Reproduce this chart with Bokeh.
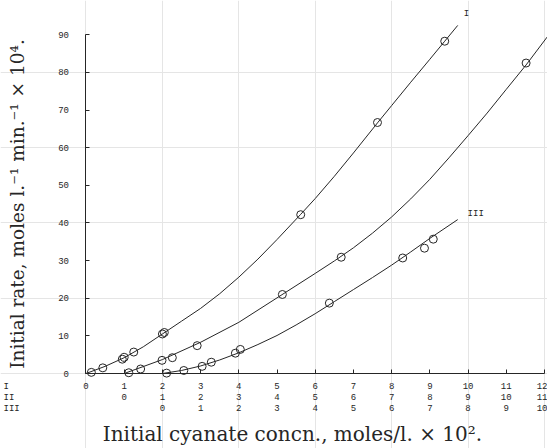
from bokeh.plotting import figure
from bokeh.models import Range1d, LinearAxis, FixedTicker, Label
from bokeh.embed import file_html
from bokeh.resources import INLINE

# ---- data (each curve in its own concentration scale, moles/l x 10^2) ----
# Curve I
pts_I_x = [0.14, 0.44, 0.95, 1.0, 1.25, 2.0, 2.05, 5.62, 7.63, 9.39]
pts_I_y = [0.3, 1.5, 3.8, 4.3, 5.7, 10.5, 10.9, 42.2, 66.7, 88.3]
fit_I_x = [0.0, 0.5, 1.0, 1.5, 2.0, 2.5, 3.0, 3.5, 4.0, 4.5, 5.0, 5.62, 6.0, 6.5, 7.0,
           7.63, 8.0, 8.5, 9.0, 9.39, 9.73]
fit_I_y = [0.0, 1.9, 4.2, 7.1, 10.5, 13.9, 17.3, 21.2, 25.6, 30.4, 35.6, 42.3, 46.5, 52.4, 58.6,
           66.6, 71.2, 77.4, 83.5, 88.3, 92.5]

# Curve II
pts_II_x = [0.12, 0.43, 0.99, 1.26, 1.91, 4.14, 5.68, 10.52]
pts_II_y = [0.2, 1.2, 3.5, 4.2, 7.4, 21.0, 30.9, 82.5]
fit_II_x = [0.0, 1.0, 2.0, 3.0, 4.0, 5.0, 5.5, 6.0, 6.5, 7.0, 7.5, 8.0, 8.5, 9.0, 9.5, 10.0,
            10.52, 11.07]
fit_II_y = [0.0, 3.7, 8.3, 13.6, 20.1, 26.6, 29.9, 33.4, 37.3, 41.6, 46.4, 51.6, 57.3, 63.2,
            69.2, 75.5, 82.0, 89.4]

# Curve III
pts_III_x = [0.11, 0.56, 1.04, 1.28, 1.91, 2.04, 4.37, 6.29, 6.86, 7.09]
pts_III_y = [0.1, 0.8, 1.9, 3.0, 5.4, 6.4, 18.7, 30.7, 33.3, 35.7]
fit_III_x = [0.0, 0.5, 1.0, 1.5, 2.0, 2.5, 3.0, 3.5, 4.0, 4.5, 5.0, 5.5, 6.0, 6.5, 7.0, 7.73]
fit_III_y = [0.0, 0.8, 2.0, 3.6, 5.5, 7.7, 10.1, 12.9, 15.9, 19.1, 22.3, 25.5, 28.8, 32.3,
             35.9, 40.9]

# scale offsets (II scale starts under 1 of I, III under 2 of I)
offset_II = 1
offset_III = 2

ticks_I = list(range(0, 13))
ticks_II = list(range(0, 12))
ticks_III = list(range(0, 11))
ticks_y = list(range(0, 100, 10))
scale_names = ["I", "II", "III"]

y_title = "Initial rate, moles l.\u207b\u00b9 min.\u207b\u00b9 \u00d7 10\u2074."
x_title = "Initial cyanate concn., moles/l. \u00d7 10\u00b2."

# ---- figure: the frame covers the whole page, axes sit at fixed locations ----
x0, x1 = -2.238, 12.08
y0, y1 = -19.93, 99.12
p = figure(width=547, height=448, output_backend="svg", toolbar_location=None,
           x_range=Range1d(x0, x1), y_range=Range1d(y0, y1),
           x_axis_location=None, y_axis_location=None,
           min_border_left=0, min_border_right=0, min_border_top=0, min_border_bottom=0)
p.extra_x_ranges = {"II": Range1d(x0 - offset_II, x1 - offset_II),
                    "III": Range1d(x0 - offset_III, x1 - offset_III)}
p.outline_line_color = None
p.background_fill_color = "white"
p.border_fill_color = "white"

ink = "#262626"
tick_font = "Liberation Mono"
serif = "DejaVu Serif"

# y axis at x = 0
yax = LinearAxis(ticker=FixedTicker(ticks=ticks_y), bounds=(0, 90), axis_label=y_title,
                 fixed_location=0)
yax.axis_line_color = ink
yax.axis_line_width = 1
yax.major_tick_in = 4
yax.major_tick_out = 0
yax.major_tick_line_color = ink
yax.minor_tick_line_color = None
yax.major_label_text_font = tick_font
yax.major_label_text_font_size = "9px"
yax.major_label_text_color = ink
yax.major_label_standoff = 17
yax.axis_label_text_font = serif
yax.axis_label_text_font_style = "normal"
yax.axis_label_text_font_size = "18.5px"
yax.axis_label_text_color = ink
yax.axis_label_standoff = 27
p.add_layout(yax, "left")

# x axes (three scales), all at y = 0
def make_xaxis(ticks, rng, standoff, line):
    kw = {} if rng is None else {"x_range_name": rng}
    ax = LinearAxis(ticker=FixedTicker(ticks=ticks), fixed_location=0, **kw)
    ax.minor_tick_line_color = None
    ax.major_label_text_font = tick_font
    ax.major_label_text_font_size = "9px"
    ax.major_label_text_color = ink
    ax.major_label_standoff = standoff
    if line:
        ax.axis_line_color = ink
        ax.major_tick_line_color = ink
        ax.major_tick_in = 4
        ax.major_tick_out = 0
        ax.bounds = (0, 12)
    else:
        ax.axis_line_color = None
        ax.major_tick_line_color = None
        ax.major_tick_in = 0
        ax.major_tick_out = 0
    return ax

ax_I = make_xaxis(ticks_I, None, 9, True)
ax_II = make_xaxis(ticks_II, "II", 20, False)
ax_III = make_xaxis(ticks_III, "III", 31, False)
ax_III.bounds = (-3.2, 10)
ax_III.axis_label = x_title
ax_III.axis_label_text_font = serif
ax_III.axis_label_text_font_style = "normal"
ax_III.axis_label_text_font_size = "20px"
ax_III.axis_label_text_color = ink
ax_III.axis_label_standoff = 8
p.add_layout(ax_I, "below")
p.add_layout(ax_II, "below")
p.add_layout(ax_III, "below")

# curves
p.line(fit_I_x, fit_I_y, line_color=ink, line_width=1)
p.line(fit_II_x, fit_II_y, line_color=ink, line_width=1, x_range_name="II")
p.line(fit_III_x, fit_III_y, line_color=ink, line_width=1, x_range_name="III")

p.scatter(pts_I_x, pts_I_y, marker="circle", size=8, fill_color=None, line_color=ink, line_width=1)
p.scatter(pts_II_x, pts_II_y, marker="circle", size=8, fill_color=None, line_color=ink, line_width=1,
          x_range_name="II")
p.scatter(pts_III_x, pts_III_y, marker="circle", size=8, fill_color=None, line_color=ink, line_width=1,
          x_range_name="III")

# curve labels
p.add_layout(Label(x=9.96, y=95.4, text="I", text_font=tick_font, text_font_size="9px",
                   text_color=ink, text_align="center", text_baseline="middle"))
p.add_layout(Label(x=8.2, y=42.5, text="III", text_font=tick_font, text_font_size="9px",
                   text_color=ink, text_align="center", text_baseline="middle",
                   x_range_name="III"))

# scale row names left of the x-axis rows
for txt, yy in zip(scale_names, (-3.5, -6.5, -9.5)):
    p.add_layout(Label(x=-2.16, y=yy, text=txt,
                       text_font=tick_font, text_font_size="9px", text_color=ink,
                       text_align="left", text_baseline="middle"))

open("out.html", "w").write(file_html(p, INLINE))
